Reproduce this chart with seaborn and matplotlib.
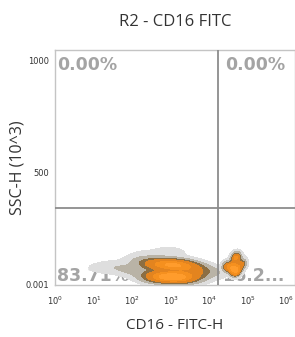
import numpy as np
import matplotlib
matplotlib.use("Agg")
import matplotlib.pyplot as plt
from matplotlib.ticker import FixedLocator, MultipleLocator, LogLocator, LogFormatterMathtext, NullFormatter
import seaborn as sns

# ---- data ----
title = "R2 - CD16 FITC"
x_label = "CD16 - FITC-H"
y_label = "SSC-H (10^3)"
y_ticks = [0.001, 500, 1000]
y_tick_labels = ["0.001", "500", "1000"]
x_gate = 10 ** 4.22
y_gate = 340
quad_labels = ["0.00%", "0.00%", "83.71%", "16.2..."]

# density anchor events (log10 FITC, SSC, relative weight)
left_logx = [1.2, 1.6, 2.0, 2.3, 2.6, 2.6, 2.9, 2.9, 3.2, 3.2, 3.5, 3.5, 3.8, 4.1, 3.0, 2.4]
left_y = [70, 80, 60, 100, 30, 85, 35, 90, 30, 85, 40, 80, 60, 55, 145, 130]
left_w = [0.2, 0.3, 0.5, 0.6, 1.5, 1.2, 2.5, 2.0, 2.5, 2.0, 1.5, 1.2, 0.7, 0.3, 0.25, 0.2]
right_logx = [4.45, 4.6, 4.7, 4.7, 4.85]
right_y = [80, 75, 60, 120, 90]
right_w = [0.4, 0.7, 0.8, 0.6, 0.4]

sns.set_style("white")
plt.rcParams["font.family"] = ["DejaVu Sans"]
label_font = ["Open Sans", "DejaVu Sans"]

fig = plt.figure(figsize=(2.95, 3.37), dpi=100)
ax = fig.add_axes([55 / 295, 52 / 337, 240 / 295, 235 / 337])

band_colors = ["#dedede", "#b9b3a6", "#8c6e42", "#e3841f", "#f5901f", "#ff9c2c"]
levels = [0.02, 0.1, 0.22, 0.32, 0.6, 0.85, 1.0]

for lx, ly, lw in [(left_logx, left_y, left_w), (right_logx, right_y, right_w)]:
    n0 = len(ax.collections)
    sns.kdeplot(x=[10 ** v for v in lx], y=ly, weights=lw, fill=True,
                log_scale=(True, False), levels=levels, cmap="Oranges", ax=ax,
                bw_adjust=0.85, zorder=3)
    for cs in ax.collections[n0:]:
        npaths = len(cs.get_paths())
        cs.set_array(None)
        cs.set_facecolor(band_colors[:npaths])
        cs.set_edgecolor("none")

ax.set_xscale("log")
ax.set_xlim(1, 10 ** 6.23)
ax.set_ylim(-3, 1045)

gray_txt = "#a4a4a4"
kw = dict(transform=ax.transAxes, ha="left", fontsize=12.5, fontweight="bold",
          color=gray_txt, zorder=2)
ax.text(0.01, 0.975, quad_labels[0], va="top", **kw)
ax.text(0.71, 0.975, quad_labels[1], va="top", **kw)
ax.text(0.01, 0.037, quad_labels[2], va="center", **kw)
ax.text(0.695, 0.037, quad_labels[3], va="center", **kw)

ax.axvline(x_gate, color="#8c8c8c", lw=1.3, zorder=4)
ax.axhline(y_gate, color="#8c8c8c", lw=1.3, zorder=4)

for s in ax.spines.values():
    s.set_color("#c4c4c4")
    s.set_linewidth(1.0)

ax.yaxis.set_major_locator(FixedLocator(y_ticks))
ax.set_yticklabels(y_tick_labels)
ax.yaxis.set_minor_locator(MultipleLocator(100))
ax.xaxis.set_major_locator(LogLocator(base=10, numticks=10))
ax.xaxis.set_major_formatter(LogFormatterMathtext())
ax.xaxis.set_minor_locator(LogLocator(base=10, subs=np.arange(2, 10), numticks=20))
ax.xaxis.set_minor_formatter(NullFormatter())
ax.tick_params(axis="both", which="major", direction="out", length=3, width=0.6,
               colors="#9a9a9a", labelcolor="#333333", labelsize=6, pad=1.5)
ax.tick_params(axis="both", which="minor", direction="out", length=1.5, width=0.5,
               colors="#b0b0b0")
ax.tick_params(axis="x", which="major", labelsize=6, pad=4)

ax.set_title(title, fontsize=12, color="#333333", pad=17, family=label_font)
ax.set_xlabel(x_label, fontsize=11, color="#333333", labelpad=8, family=label_font)
ax.set_ylabel(y_label, fontsize=11.5, color="#333333", labelpad=0, family=label_font)

fig.savefig("out.png", dpi=100)
